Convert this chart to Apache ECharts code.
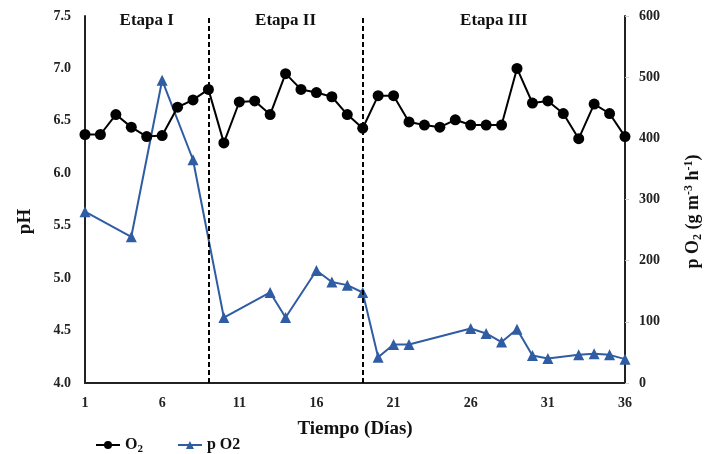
<!DOCTYPE html>
<html>
<head>
<meta charset="utf-8">
<script src="https://cdn.jsdelivr.net/npm/echarts@6/dist/echarts.min.js"></script>
<style>
  html, body { margin: 0; padding: 0; background: #fff; }
  #chart { width: 704px; height: 454px; }
</style>
</head>
<body>
<div id="chart"></div>
<script>
const days = ["1","2","3","4","5","6","7","8","9","10","11","12","13","14","15","16","17","18",
  "19","20","21","22","23","24","25","26","27","28","29","30","31","32","33","34","35","36"];
// black series, left axis (pH)
const o2 = [6.37, 6.37, 6.56, 6.44, 6.35, 6.36, 6.63, 6.70, 6.80, 6.29, 6.68, 6.69, 6.56, 6.95,
  6.80, 6.77, 6.73, 6.56, 6.43, 6.74, 6.74, 6.49, 6.46, 6.44, 6.51, 6.46, 6.46, 6.46, 7.00,
  6.67, 6.69, 6.57, 6.33, 6.66, 6.57, 6.35];
// blue series, right axis (g m-3 h-1), null = not measured
const pO2 = [280, null, null, 239, null, 495, null, 365, null, 107, null, null, 148, 107, null,
  184, 165, 160, 148, 42, 63, 63, null, null, null, 89, 81, 67, 88, 45, 40, null, 46, 48, 46, 39];
const stageLimits = ["1", "9", "19", "36"];
const stageNames = ["Etapa I", "Etapa II", "Etapa III"];

const serif = "Liberation Serif";
const chart = echarts.init(document.getElementById("chart"));

const stageAreas = stageNames.map((n, i) => [
  { name: n, xAxis: stageLimits[i] },
  { xAxis: stageLimits[i + 1] }
]);

chart.setOption({
  animation: false,
  textStyle: { fontFamily: serif },
  grid: { left: 85, right: 79, top: 16, bottom: 71, outerBoundsMode: "none", containLabel: false },
  legend: {
    left: 90,
    top: 432,
    itemWidth: 24,
    itemHeight: 10,
    itemGap: 34,
    textStyle: {
      fontFamily: serif, fontWeight: "bold", fontSize: 16, color: "#111",
      rich: {
        b: { fontFamily: serif, fontWeight: "bold", fontSize: 16, color: "#111" },
        s: { fontFamily: serif, fontWeight: "bold", fontSize: 11, color: "#111", verticalAlign: "bottom", padding: [8, 0, 0, 0] }
      }
    },
    formatter: name => name === "O2" ? "{b|O}{s|2}" : "{b|p O2}",
    data: ["O2", "p O2"]
  },
  xAxis: {
    type: "category",
    data: days,
    boundaryGap: false,
    name: "Tiempo (Días)",
    nameLocation: "middle",
    nameGap: 37,
    nameTextStyle: { fontFamily: serif, fontWeight: "bold", fontSize: 19, color: "#111" },
    axisLine: { lineStyle: { color: "#222", width: 2 } },
    axisTick: { show: false },
    axisLabel: { interval: 4, margin: 13, fontFamily: serif, fontWeight: "bold", fontSize: 14, color: "#222" },
    splitLine: { show: false }
  },
  yAxis: [
    {
      type: "value",
      min: 4, max: 7.5, interval: 0.5,
      name: "pH",
      nameLocation: "middle",
      nameRotate: 90,
      nameGap: 50,
      nameTextStyle: { fontFamily: serif, fontWeight: "bold", fontSize: 19, color: "#111", padding: [0, 44, 0, 0] },
      axisLine: { show: true, lineStyle: { color: "#222", width: 2 } },
      axisTick: { show: false },
      axisLabel: { margin: 14, formatter: v => v.toFixed(1), fontFamily: serif, fontWeight: "bold", fontSize: 14, color: "#222" },
      splitLine: { show: false }
    },
    {
      type: "value",
      min: 0, max: 600, interval: 100,
      position: "right",
      name: "{t|p O}{sb|2}{t| (g m}{sp|-3}{t| h}{sp|-1}{t|)}",
      nameLocation: "middle",
      nameRotate: 90,
      nameGap: 58,
      nameTextStyle: {
        padding: [0, 24, 0, 0],
        rich: {
          t: { fontFamily: serif, fontWeight: "bold", fontSize: 18, color: "#111" },
          sb: { fontFamily: serif, fontWeight: "bold", fontSize: 12, color: "#111", padding: [9, 0, 0, 0] },
          sp: { fontFamily: serif, fontWeight: "bold", fontSize: 12, color: "#111", padding: [0, 0, 9, 0] }
        }
      },
      axisLine: { show: true, lineStyle: { color: "#222", width: 2 } },
      axisTick: { show: true, length: 4, lineStyle: { color: "#ccc" } },
      axisLabel: { margin: 14, fontFamily: serif, fontWeight: "bold", fontSize: 14, color: "#222" },
      splitLine: { show: false }
    }
  ],
  series: [
    {
      name: "O2",
      type: "line",
      yAxisIndex: 0,
      data: o2,
      symbol: "circle",
      symbolSize: 11,
      showAllSymbol: true,
      itemStyle: { color: "#000" },
      lineStyle: { color: "#000", width: 2 },
      z: 3,
      markLine: {
        silent: true,
        symbol: "none",
        label: { show: false },
        lineStyle: { color: "#000", width: 2, type: [5, 3] },
        data: [{ xAxis: stageLimits[1] }, { xAxis: stageLimits[2] }]
      },
      markArea: {
        silent: true,
        itemStyle: { color: "rgba(0,0,0,0)" },
        label: {
          position: "insideTop",
          distance: 0,
          offset: [0, -4],
          fontFamily: serif, fontWeight: "bold", fontSize: 17, color: "#111"
        },
        data: stageAreas
      }
    },
    {
      name: "p O2",
      type: "line",
      yAxisIndex: 1,
      data: pO2,
      connectNulls: true,
      symbol: "triangle",
      symbolSize: 11,
      showAllSymbol: true,
      itemStyle: { color: "#2F5CA3" },
      lineStyle: { color: "#2F5CA3", width: 2 },
      z: 2
    }
  ]
});
</script>
</body>
</html>
